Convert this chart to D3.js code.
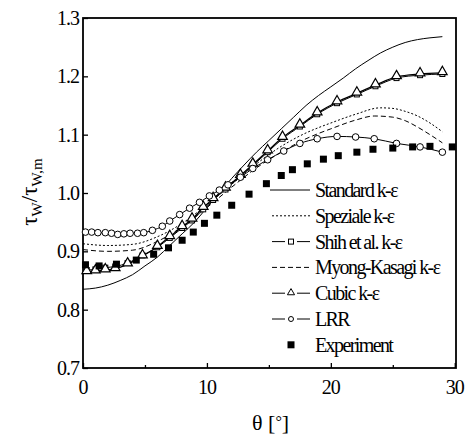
<!DOCTYPE html>
<html>
<head>
<meta charset="utf-8">
<script src="https://cdn.jsdelivr.net/npm/d3@7"></script>
<style>
  body { margin: 0; background: #fff; overflow: hidden; }
  svg { display: block; }
  text { font-family: "Liberation Serif", "DejaVu Serif", serif; fill: #000; }
</style>
</head>
<body>
<div id="chart"></div>
<script>
// ---- data: [theta, tau_w / tau_w,m]
const standard = [[0,0.835],[1,0.837],[2,0.842],[3,0.85],[4,0.86],[5,0.875],[6,0.89],[7,0.91],[8,0.93],[9,0.95],[10,0.975],[11,1.0],[12,1.025],[13,1.048],[14,1.07],[15,1.09],[16,1.11],[17,1.13],[18,1.15],[19,1.167],[20,1.182],[21,1.197],[22,1.213],[23,1.227],[24,1.24],[25,1.25],[26,1.258],[27,1.263],[28,1.266],[29,1.268]];
const speziale = [[0,0.913],[2,0.91],[4,0.912],[6,0.925],[8,0.948],[10,0.98],[12,1.015],[14,1.05],[16,1.08],[18,1.103],[19,1.112],[20,1.12],[22,1.135],[24,1.146],[25,1.145],[26,1.14],[27,1.132],[28,1.12],[29,1.105]];
const myongKasagi = [[0,0.903],[2,0.9],[4,0.902],[6,0.917],[8,0.942],[10,0.975],[12,1.01],[14,1.043],[16,1.07],[18,1.093],[19,1.102],[20,1.11],[22,1.125],[23.5,1.132],[25,1.13],[26,1.124],[27,1.113],[28,1.1],[29,1.086]];
const cubic = [[0.3,0.865],[1.0,0.866],[1.8,0.868],[2.6,0.87],[3.6,0.878],[4.8,0.892],[6.0,0.908],[7.0,0.925],[8.0,0.942],[8.8,0.955],[9.7,0.975],[10.5,0.99],[11.5,1.008],[12.7,1.03],[13.7,1.049],[14.9,1.072],[16.1,1.095],[17.5,1.116],[18.9,1.137],[20.5,1.156],[22.1,1.171],[23.6,1.185],[25.3,1.199],[27.2,1.204],[29.0,1.206]];
const shih = [[0.3,0.868],[1.0,0.869],[1.8,0.872],[2.6,0.874],[3.6,0.88],[4.8,0.893],[6.0,0.907],[7.0,0.923],[8.0,0.94],[8.8,0.953],[9.7,0.972],[10.5,0.988],[11.5,1.006],[12.7,1.028],[13.7,1.047],[14.9,1.07],[16.1,1.093],[17.5,1.114],[18.9,1.135],[20.5,1.154],[22.1,1.169],[23.6,1.183],[25.3,1.197],[27.2,1.202],[29.0,1.204]];
const lrr = [[0.2,0.933],[0.7,0.933],[1.2,0.932],[1.8,0.932],[2.3,0.931],[2.8,0.929],[3.3,0.93],[3.8,0.931],[4.4,0.931],[4.9,0.932],[5.6,0.936],[6.4,0.943],[7.0,0.952],[7.8,0.963],[8.6,0.974],[9.4,0.984],[10.2,0.995],[11.0,1.005],[11.7,1.014],[12.7,1.027],[13.7,1.042],[14.9,1.057],[16.2,1.072],[17.5,1.085],[18.9,1.093],[20.5,1.097],[22.0,1.096],[23.5,1.093],[25.3,1.085],[27.2,1.079],[29.0,1.07]];
const experiment = [[0.2,0.877],[1.3,0.875],[2.7,0.878],[4.3,0.885],[5.7,0.895],[6.9,0.906],[8.0,0.919],[8.9,0.933],[9.8,0.948],[10.8,0.962],[12.0,0.979],[13.4,0.998],[14.8,1.016],[16.0,1.03],[16.9,1.04],[18.1,1.05],[19.4,1.058],[20.6,1.064],[22.1,1.07],[23.4,1.075],[25.0,1.077],[26.6,1.079],[28.0,1.08],[29.8,1.079]];

const xTicks = [0, 10, 20, 30];
const xMinor = [5, 15, 25];
const yTicks = [0.7, 0.8, 0.9, 1.0, 1.1, 1.2, 1.3];
const legendNames = ["Standard k-\u03b5", "Speziale k-\u03b5", "Shih et al. k-\u03b5", "Myong-Kasagi k-\u03b5", "Cubic k-\u03b5", "LRR", "Experiment"];

const width = 474, height = 438;
const margin = {top: 18, right: 18, bottom: 70, left: 83};
const innerWidth = width - margin.left - margin.right;
const innerHeight = height - margin.top - margin.bottom;

const svg = d3.select("#chart").append("svg")
    .attr("width", width)
    .attr("height", height);

const chart = svg.append("g")
    .attr("transform", `translate(${margin.left}, ${margin.top})`);

const x = d3.scaleLinear().domain([0, 30.1]).range([0, innerWidth]);
const y = d3.scaleLinear().domain([0.7, 1.3]).range([innerHeight, 0]);

// axes: inward ticks only, labels drawn separately
chart.append("g")
    .attr("transform", `translate(0, ${innerHeight})`)
    .call(d3.axisBottom(x).tickValues(xTicks).tickSize(-5));
chart.append("g")
    .attr("transform", `translate(0, ${innerHeight})`)
    .call(d3.axisBottom(x).tickValues(xMinor).tickSize(-3));
chart.append("g")
    .call(d3.axisLeft(y).tickValues(yTicks).tickSize(-5));
chart.selectAll(".domain").remove();
chart.selectAll(".tick text").remove();
chart.selectAll(".tick line").attr("stroke", "#000").attr("stroke-width", 1.3);

chart.append("rect")
    .attr("x", 0).attr("y", 0)
    .attr("width", innerWidth).attr("height", innerHeight)
    .attr("fill", "none")
    .attr("stroke", "#000")
    .attr("stroke-width", 1.8);

// tick labels
svg.selectAll(".xlab").data(xTicks).enter().append("text")
    .attr("class", "xlab")
    .attr("x", d => margin.left + x(d))
    .attr("y", margin.top + innerHeight + 26)
    .attr("text-anchor", "middle")
    .style("font-size", "20px")
    .style("letter-spacing", "-1px")
    .text(d => d);

svg.selectAll(".ylab").data(yTicks).enter().append("text")
    .attr("class", "ylab")
    .attr("x", margin.left - 4)
    .attr("y", d => margin.top + y(d) + 7)
    .attr("text-anchor", "end")
    .style("font-size", "20px")
    .style("letter-spacing", "-1px")
    .text(d => d.toFixed(1));

// axis titles
const xt = svg.append("text")
    .attr("x", 252)
    .attr("y", 430)
    .style("font-size", "22px");
xt.append("tspan").text("\u03b8 [");
xt.append("tspan").attr("dy", -3).style("font-size", "16px").text("\u00b0");
xt.append("tspan").attr("dy", 3).text("]");

const yt = svg.append("text")
    .attr("transform", "translate(37, 192) rotate(-90)")
    .attr("text-anchor", "middle")
    .style("font-size", "23px");
yt.append("tspan").text("\u03c4");
yt.append("tspan").attr("dy", 5).style("font-size", "15px").text("W");
yt.append("tspan").attr("dy", -5).text("/\u03c4");
yt.append("tspan").attr("dy", 5).style("font-size", "15px").text("W,m");

// lines
const line = d3.line()
    .x(d => x(d[0]))
    .y(d => y(d[1]))
    .curve(d3.curveMonotoneX);

const series = [
    {data: standard, dash: null, width: 1},
    {data: speziale, dash: "2,2", width: 1},
    {data: myongKasagi, dash: "5,3", width: 1},
    {data: shih, dash: null, width: 1},
    {data: cubic, dash: null, width: 1.3},
    {data: lrr, dash: null, width: 1}
];

series.forEach(s => {
    chart.append("path")
        .datum(s.data)
        .attr("d", line)
        .attr("fill", "none")
        .attr("stroke", "#000")
        .attr("stroke-width", s.width)
        .attr("stroke-dasharray", s.dash);
});

// markers
const tri = d3.symbol().type(d3.symbolTriangle).size(40);

chart.selectAll(".shih-dot").data(shih).enter().append("rect")
    .attr("class", "shih-dot")
    .attr("x", d => x(d[0]) - 2.5)
    .attr("y", d => y(d[1]) - 2.5)
    .attr("width", 5).attr("height", 5)
    .attr("fill", "#fff").attr("stroke", "#000").attr("stroke-width", 1);

chart.selectAll(".cubic-dot").data(cubic).enter().append("path")
    .attr("class", "cubic-dot")
    .attr("d", tri)
    .attr("transform", d => `translate(${x(d[0])}, ${y(d[1]) - 1})`)
    .attr("fill", "#fff").attr("stroke", "#000").attr("stroke-width", 1.2);

chart.selectAll(".lrr-dot").data(lrr).enter().append("circle")
    .attr("class", "lrr-dot")
    .attr("cx", d => x(d[0]))
    .attr("cy", d => y(d[1]))
    .attr("r", 3.3)
    .attr("fill", "#fff").attr("stroke", "#000").attr("stroke-width", 1);

chart.selectAll(".exp-dot").data(experiment).enter().append("rect")
    .attr("class", "exp-dot")
    .attr("x", d => x(d[0]) - 3.5)
    .attr("y", d => y(d[1]) - 3.5)
    .attr("width", 7).attr("height", 7)
    .attr("fill", "#000");

// legend
const legend = svg.append("g").attr("transform", "translate(270, 190)");
const rowH = 25.8;

legendNames.forEach((name, i) => {
    const row = legend.append("g").attr("transform", `translate(0, ${i * rowH})`);
    if (i === 0) {
        row.append("line").attr("x1", 0).attr("x2", 40).attr("stroke", "#000");
    } else if (i === 1) {
        row.append("line").attr("x1", 2).attr("x2", 40).attr("stroke", "#000").attr("stroke-dasharray", "2,2");
    } else if (i === 3) {
        row.append("line").attr("x1", 2).attr("x2", 40).attr("stroke", "#000").attr("stroke-dasharray", "5,3");
    } else if (i === 2 || i === 4 || i === 5) {
        row.append("line").attr("x1", 2).attr("x2", 15).attr("stroke", "#000");
        row.append("line").attr("x1", 27).attr("x2", 40).attr("stroke", "#000");
        if (i === 2) {
            row.append("rect").attr("x", 18.5).attr("y", -2.5).attr("width", 5).attr("height", 5)
                .attr("fill", "#fff").attr("stroke", "#000");
        } else if (i === 4) {
            row.append("path").attr("d", d3.symbol().type(d3.symbolTriangle).size(22))
                .attr("transform", "translate(21, -0.5)")
                .attr("fill", "#fff").attr("stroke", "#000");
        } else {
            row.append("circle").attr("cx", 21).attr("cy", 0).attr("r", 2.5)
                .attr("fill", "#fff").attr("stroke", "#000");
        }
    } else {
        row.append("rect").attr("x", 17.5).attr("y", -3.5).attr("width", 7).attr("height", 7).attr("fill", "#000");
    }
    row.append("text")
        .attr("x", 45)
        .attr("y", 7)
        .style("font-size", "20px")
        .style("letter-spacing", "-1.6px")
        .text(name);
});
</script>
</body>
</html>
